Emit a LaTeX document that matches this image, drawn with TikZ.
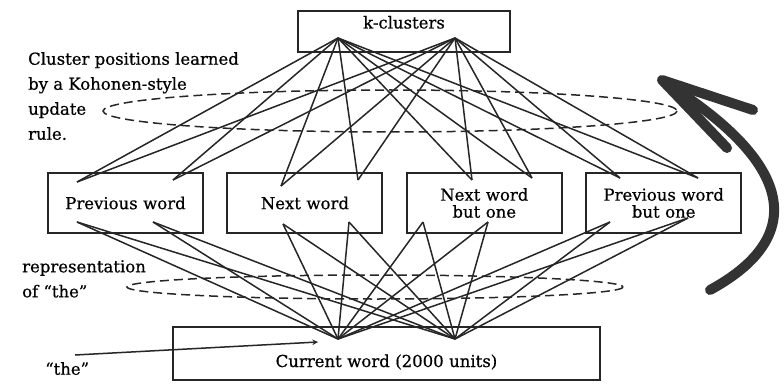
\documentclass[tikz,border=0pt]{standalone}
\usepackage{fontspec}
\setmainfont{DejaVu Serif}
\newfontfamily\heavy{DejaVu Serif}[Ligatures=TeX, FakeBold=0.6]
\usetikzlibrary{shapes,arrows,positioning}

\begin{document}
\begin{tikzpicture}[
  x=1pt, y=-1pt,
  node distance=22.5pt,
  box/.style={
    draw=black!85, line width=1.9pt, text width=150pt, align=center,
    font=\heavy\fontsize{16.5}{17}\selectfont, minimum width=155pt, minimum height=60pt, inner sep=2pt
  },
  link/.style={draw=black!85, line width=1.5pt},
  ring/.style={draw=black!85, line width=1.5pt, dash pattern=on 9pt off 5pt},
  note/.style={anchor=north west, align=left, font=\heavy\fontsize{16.5}{25}\selectfont, inner sep=0pt},
  arr/.style={->, >=stealth, draw=black!85, line width=1.5pt},
  bigarr/.style={draw=black!80, line width=10pt, line cap=round, line join=round}
]
  \useasboundingbox (0,0) rectangle (784,385);

  \node[box, minimum width=212pt, minimum height=41pt, text height=11pt, text depth=17pt] (K) at (404,31.5) {k-clusters};
  \node[box] (A) at (125.5,203) {Previous word};
  \node[box, right=of A] (B) {Next word};
  \node[box, right=of B] (C) {Next word\\but one};
  \node[box, right=of C] (D) {Previous word\\but one};
  \node[box, minimum width=427pt, minimum height=53pt, text width=400pt, text height=30pt, text depth=3pt] (W) at (386.5,353.5) {Current word (2000 units)};

  % apexes
  \coordinate (ka) at (338,38);
  \coordinate (kb) at (455,38);
  \coordinate (wa) at (338,339);
  \coordinate (wb) at (455,339);
  % upper ends in the word boxes
  \coordinate (u1) at (77,182);
  \coordinate (u2) at (173,180);
  \coordinate (u3) at (281,186);
  \coordinate (u4) at (358,180);
  \coordinate (u5) at (472,180);
  \coordinate (u6) at (532,178);
  \coordinate (u7) at (620,178);
  \coordinate (u8) at (698,178);
  % lower ends
  \coordinate (l1) at (77,222);
  \coordinate (l2) at (153,222);
  \coordinate (l3) at (283,224);
  \coordinate (l4) at (349,222);
  \coordinate (l5) at (423,222);
  \coordinate (l6) at (488,222);
  \coordinate (l7) at (610,222);
  \coordinate (l8) at (688,218);

  \foreach \s in {ka,kb}
    \foreach \t in {1,...,8}
      \draw[link] (\s) -- (u\t);
  \foreach \s in {wa,wb}
    \foreach \t in {1,...,8}
      \draw[link] (\s) -- (l\t);

  \draw[ring] (390,111) ellipse [x radius=287, y radius=21];
  \draw[ring] (375,287) ellipse [x radius=248, y radius=12];

  \node[note] (cl) at (28,52) {Cluster positions learned\\by a Kohonen-style\\update\\rule.};
  \node[note] (rp) at (22,260) {representation\\of “the”};
  \node[note] (th) at (45,362) {“the”};

  \coordinate (tin) at (75,355);
  \coordinate (tout) at (318,342);
  \draw[arr] (tin) -- (tout);

  % big curved arrow
  \coordinate (c0) at (710,290);
  \coordinate (c1) at (664,82);
  \coordinate (tip) at (662,80);
  \coordinate (b1) at (753,110);
  \coordinate (b2) at (727,148);
  \draw[bigarr] (c0) .. controls (802,240) and (802,168) .. (c1);
  \draw[bigarr] (b1) -- (tip) -- (b2);
\end{tikzpicture}
\end{document}
